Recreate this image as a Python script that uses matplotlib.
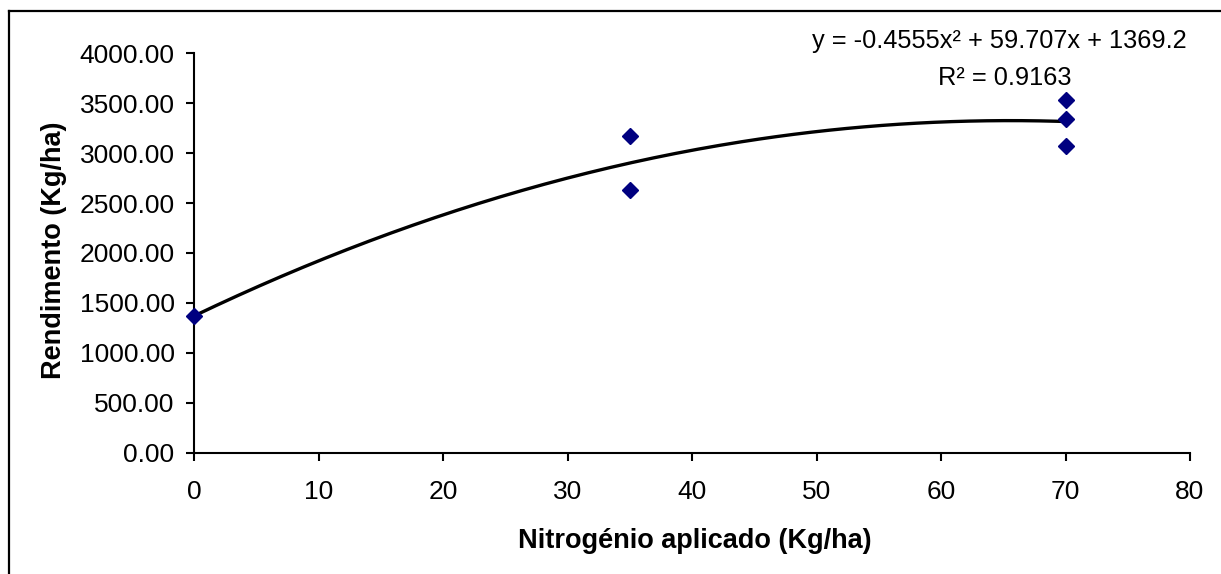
import numpy as np
import matplotlib
matplotlib.use("Agg")
import matplotlib.pyplot as plt
from matplotlib.lines import Line2D
from matplotlib.ticker import FormatStrFormatter

plt.rcParams['font.family'] = ['Liberation Sans', 'DejaVu Sans']

# Data
nitrogen = [0, 35, 35, 70, 70, 70]
yield_kg = [1369, 3170, 2632, 3530, 3345, 3075]
trend_coef = [-0.4555, 59.707, 1369.2]   # quadratic trendline coefficients
r_squared = 0.9163
x_ticks = [0, 10, 20, 30, 40, 50, 60, 70, 80]
y_ticks = [0, 500, 1000, 1500, 2000, 2500, 3000, 3500, 4000]

W, H = 1221, 574
fig = plt.figure(figsize=(W / 100, H / 100), dpi=100)
ax = fig.add_axes([194 / W, 1 - 452.7 / H, (1190 - 194) / W, (452.7 - 53.3) / H])

xs = np.linspace(min(nitrogen), max(nitrogen), 200)
ax.plot(xs, np.polyval(trend_coef, xs), color='black', lw=2.4, zorder=2)
ax.plot(nitrogen, yield_kg, linestyle='none', marker='D', markersize=8.5,
        color='#000080', zorder=3, clip_on=False)

ax.set_xlim(0, 80)
ax.set_ylim(0, 4000)
ax.set_xticks(x_ticks)
ax.set_yticks(y_ticks)
ax.yaxis.set_major_formatter(FormatStrFormatter('%.2f'))
for s in ['top', 'right']:
    ax.spines[s].set_visible(False)
for s in ['left', 'bottom']:
    ax.spines[s].set_linewidth(1.5)
ax.tick_params(direction='out', length=6, width=1.5, labelsize=19, pad=8)
ax.tick_params(axis='x', pad=14)

ax.set_xlabel('Nitrogénio aplicado (Kg/ha)', fontsize=19.5, fontweight='bold')
ax.set_ylabel('Rendimento (Kg/ha)', fontsize=19.5, fontweight='bold')
ax.xaxis.set_label_coords(0.5025, -(541 - 452.7) / 399.4)
ax.xaxis.label.set_va('center')
ax.yaxis.set_label_coords((54 - 194) / 996, 0.5075)
ax.yaxis.label.set_va('center')

eq = 'y = {:.4f}x² + {:.3f}x + {:.1f}'.format(*trend_coef)
fig.text(999.5 / W, 1 - 48 / H, eq, ha='center', va='baseline', fontsize=18.3)
fig.text(1005 / W, 1 - 85 / H, 'R² = {:.4f}'.format(r_squared), ha='center', va='baseline', fontsize=18.3)

# outer chart frame (left and top edges visible)
fig.add_artist(Line2D([8.5 / W, 8.5 / W], [0, 1 - 11 / H], color='black', lw=1.6, transform=fig.transFigure))
fig.add_artist(Line2D([8.5 / W, 1], [1 - 11 / H, 1 - 11 / H], color='black', lw=1.6, transform=fig.transFigure))

fig.savefig('out.png', dpi=100)
